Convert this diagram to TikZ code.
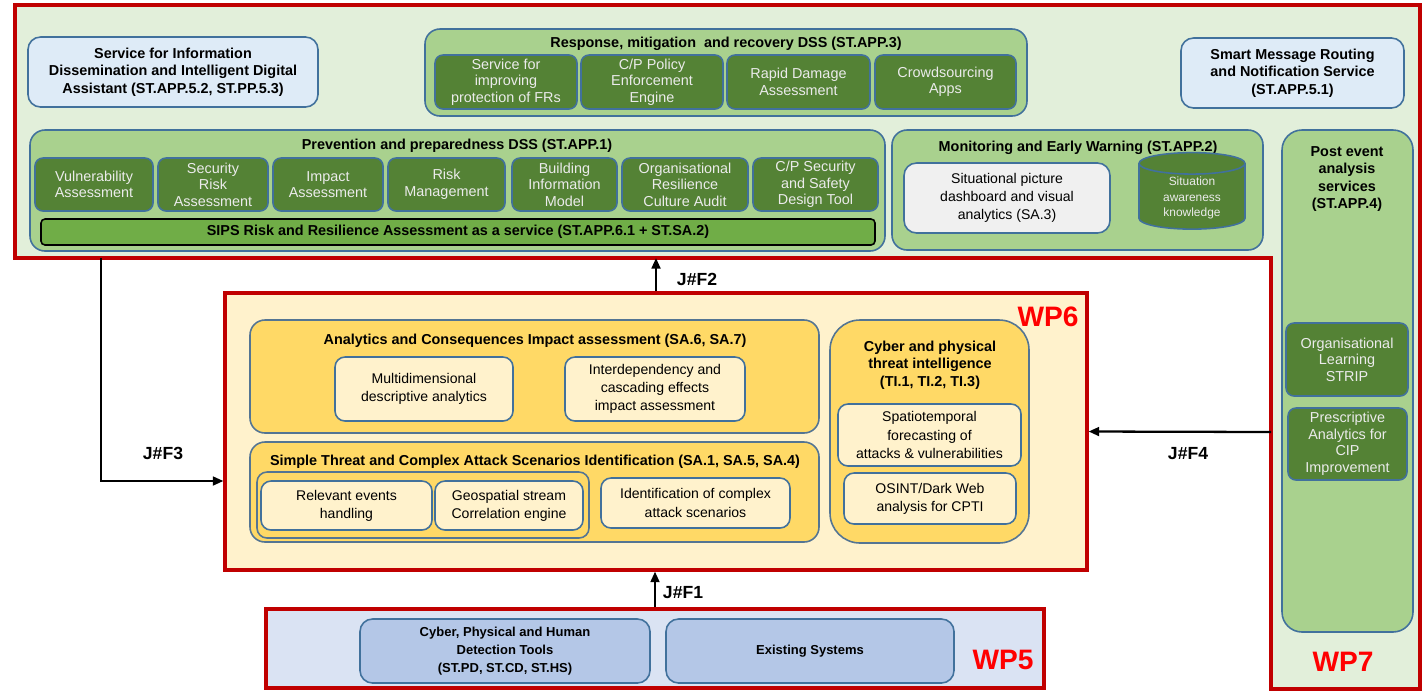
\documentclass[tikz,border=0pt]{standalone}
\usepackage{fontspec}
\setmainfont{Liberation Sans}
\usetikzlibrary{arrows.meta,positioning,calc,shapes.geometric}

\definecolor{frameRed}{RGB}{192,0,0}
\definecolor{wpRed}{RGB}{255,0,0}
\definecolor{paleGreen}{RGB}{226,239,218}
\definecolor{midGreen}{RGB}{169,209,142}
\definecolor{darkGreen}{RGB}{84,130,53}
\definecolor{barGreen}{RGB}{112,173,71}
\definecolor{edgeBlue}{RGB}{65,113,156}
\definecolor{paleBlue}{RGB}{222,235,247}
\definecolor{paleYellow}{RGB}{255,242,204}
\definecolor{midYellow}{RGB}{255,217,102}
\definecolor{slateBlue}{RGB}{218,227,243}
\definecolor{toolBlue}{RGB}{180,199,231}
\definecolor{paleGrey}{RGB}{240,240,240}

% box from pixel corners: name, style, x1, y1, x2, y2, text
\newcommand{\pbox}[7]{%
  \node[#2, minimum width={(#5-#3)*0.02cm}, minimum height={(#6-#4)*0.02cm}]
    (#1) at ({(#3+#5)/2},{(#4+#6)/2}) {#7};}

\begin{document}
\begin{tikzpicture}[x=0.02cm, y=-0.02cm,
    frame/.style={draw=frameRed, line width=1.8pt, inner sep=0pt},
    grp/.style={draw=edgeBlue, line width=0.9pt, rounded corners=0.3cm, fill=midGreen, inner sep=0pt},
    dkbox/.style={draw=edgeBlue, line width=0.9pt, rounded corners=0.16cm, fill=darkGreen,
      text=white!92!black, align=center, inner sep=1pt, font=\fontsize{8.2}{9.4}\selectfont},
    svc/.style={draw=edgeBlue, line width=0.9pt, rounded corners=0.25cm, fill=paleBlue,
      align=center, inner sep=1pt, font=\bfseries\fontsize{8.2}{10}\selectfont},
    ttl/.style={font=\bfseries\fontsize{8.2}{10}\selectfont, align=center, inner sep=1pt},
    bar/.style={draw=black, line width=0.9pt, rounded corners=0.08cm, fill=barGreen,
      inner sep=1pt, font=\bfseries\fontsize{8.2}{10}\selectfont},
    ylw/.style={draw=edgeBlue!70!gray, line width=0.9pt, rounded corners=0.3cm, fill=midYellow, inner sep=0pt},
    lyb/.style={draw=edgeBlue, line width=0.9pt, rounded corners=0.2cm, fill=paleYellow,
      align=center, inner sep=1pt, font=\fontsize{8}{10.4}\selectfont},
    gbox/.style={draw=edgeBlue, line width=0.9pt, rounded corners=0.25cm, fill=paleGrey,
      align=center, inner sep=1pt, font=\fontsize{8}{10.4}\selectfont},
    cyl/.style={cylinder, shape border rotate=90, aspect=0.35, draw=edgeBlue, line width=0.9pt,
      fill=darkGreen, text=white!92!black, align=center, inner sep=1pt, font=\fontsize{6.8}{9}\selectfont},
    tool/.style={draw=edgeBlue, line width=0.9pt, rounded corners=0.25cm, fill=toolBlue,
      align=center, inner sep=1pt, font=\bfseries\fontsize{7.4}{10.4}\selectfont},
    wp/.style={text=wpRed, font=\bfseries\fontsize{16}{16}\selectfont, inner sep=0pt},
    jf/.style={font=\bfseries\fontsize{10}{10}\selectfont, inner sep=0pt},
    flow/.style={line width=1.3pt, -{Triangle[length=6pt,width=5pt]}}]
  \useasboundingbox (0,0) rectangle (1422,691);

  % WP7 frame (top band and right column)
  \draw[frame, fill=paleGreen] (15,5) -- (1420,5) -- (1420,689) -- (1271,689)
    -- (1271,258) -- (15,258) -- cycle;

  \pbox{info}{svc}{28}{37}{318}{107}{Service for Information\\Dissemination and Intelligent Digital\\Assistant (ST.APP.5.2, ST.PP.5.3)}
  \pbox{smr}{svc}{1181}{38}{1404}{108}{Smart Message Routing\\and Notification Service\\(ST.APP.5.1)}

  % Response DSS
  \pbox{resp}{grp}{425}{29}{1027}{116}{}
  \node[ttl] (respT) at (726,44) {Response, mitigation\ \ and recovery DSS (ST.APP.3)};
  \pbox{frs}{dkbox}{435}{55}{577}{109}{Service for\\improving\\protection of FRs}
  \pbox{cpp}{dkbox}{581}{55}{723}{109}{C/P Policy\\Enforcement\\Engine}
  \pbox{rda}{dkbox}{727}{55}{870}{109}{Rapid Damage\\Assessment}
  \pbox{crowd}{dkbox}{875}{55}{1016}{109}{Crowdsourcing\\Apps}

  % Prevention DSS
  \pbox{prev}{grp}{30}{130}{885}{251}{}
  \node[ttl] (prevT) at (457,146) {Prevention and preparedness DSS (ST.APP.1)};
  \pbox{vul}{dkbox}{35}{158}{153}{211}{Vulnerability\\Assessment}
  \pbox{sra}{dkbox}{158}{158}{268}{211}{Security\\Risk\\Assessment}
  \pbox{ima}{dkbox}{273}{158}{383}{211}{Impact\\Assessment}
  \pbox{rmg}{dkbox}{388}{158}{505}{211}{Risk\\Management}
  \pbox{bim}{dkbox}{512}{158}{617}{211}{Building\\Information\\Model}
  \pbox{orc}{dkbox}{622}{158}{748}{211}{Organisational\\Resilience\\Culture Audit}
  \pbox{cps}{dkbox}{753}{158}{878}{211}{C/P Security\\and Safety\\Design Tool}
  \pbox{sips}{bar}{41}{219}{875}{245}{SIPS Risk and Resilience Assessment as a service (ST.APP.6.1 + ST.SA.2)}

  % Monitoring
  \pbox{mon}{grp}{892}{130}{1263}{250}{}
  \node[ttl] (monT) at (1078,148) {Monitoring and Early Warning (ST.APP.2)};
  \pbox{sit}{gbox}{904}{163}{1110}{233}{Situational picture\\dashboard and visual\\analytics (SA.3)}
  \pbox{sak}{cyl}{1139}{162}{1245}{234}{Situation\\awareness\\knowledge}

  % Post event
  \pbox{post}{grp, rounded corners=0.4cm}{1282}{130}{1413}{632}{}
  \node[ttl] (postT) at (1347,179) {Post event\\analysis\\services\\(ST.APP.4)};
  \pbox{orgl}{dkbox}{1286}{323}{1408}{396}{Organisational\\Learning\\STRIP}
  \pbox{presc}{dkbox}{1288}{408}{1407}{480}{Prescriptive\\Analytics for\\CIP\\Improvement}
  \node[wp] (wp7) at (1343,662) {WP7};

  % WP6
  \pbox{wp6}{frame, fill=paleYellow}{225}{293}{1087}{570}{}
  \node[wp] (wp6L) at (1048,317) {WP6};
  \pbox{acia}{ylw}{250}{320}{819}{433}{}
  \node[ttl] (aciaT) at (535,341) {Analytics and Consequences Impact assessment (SA.6, SA.7)};
  \pbox{mda}{lyb}{335}{357}{513}{421}{Multidimensional\\descriptive analytics}
  \pbox{ice}{lyb}{565}{357}{745}{421}{Interdependency and\\cascading effects\\impact assessment}
  \pbox{stc}{ylw}{250}{442}{819}{542}{}
  \node[ttl] (stcT) at (535,462) {Simple Threat and Complex Attack Scenarios Identification (SA.1, SA.5, SA.4)};
  \pbox{evg}{ylw, rounded corners=0.2cm}{257}{472}{589}{538}{}
  \pbox{rel}{lyb}{261}{481}{432}{530}{Relevant events\\handling}
  \pbox{geo}{lyb}{435}{481}{583}{530}{Geospatial stream\\Correlation engine}
  \pbox{ica}{lyb}{601}{478}{790}{528}{Identification of complex\\attack scenarios}
  \pbox{cti}{ylw, rounded corners=0.6cm}{830}{320}{1029}{543}{}
  \node[ttl] (ctiT) at (930,365) {Cyber and physical\\threat intelligence\\(TI.1, TI.2, TI.3)};
  \pbox{spt}{lyb}{838}{404}{1021}{466}{Spatiotemporal\\forecasting of\\attacks \& vulnerabilities}
  \pbox{osint}{lyb}{844}{473}{1016}{524}{OSINT/Dark Web\\analysis for CPTI}

  % WP5
  \pbox{wp5}{frame, fill=slateBlue}{266}{609}{1044}{688}{}
  \pbox{cph}{tool}{360}{619}{650}{683}{Cyber, Physical and Human\\Detection Tools\\(ST.PD, ST.CD, ST.HS)}
  \pbox{exs}{tool}{666}{619}{954}{683}{Existing Systems}
  \node[wp] (wp5L) at (1003,660) {WP5};

  % flows
  \coordinate (f2e) at (656,258);
  \coordinate (f3s) at (101,258);
  \coordinate (f4s) at (1271,432);
  \draw[flow] (wp6.north) -- (f2e);
  \draw[flow] (f3s) |- ([yshift=-0.99cm]wp6.west);
  \draw[flow] (f4s) -- (wp6.east);
  \draw[flow] (wp5.north) -- (wp5.north |- wp6.south);
  \node[jf] (j1) at (683,593) {J\#F1};
  \node[jf] (j2) at (697,279) {J\#F2};
  \node[jf] (j3) at (163,453) {J\#F3};
  \node[jf] (j4) at (1188,454) {J\#F4};
\end{tikzpicture}
\end{document}
